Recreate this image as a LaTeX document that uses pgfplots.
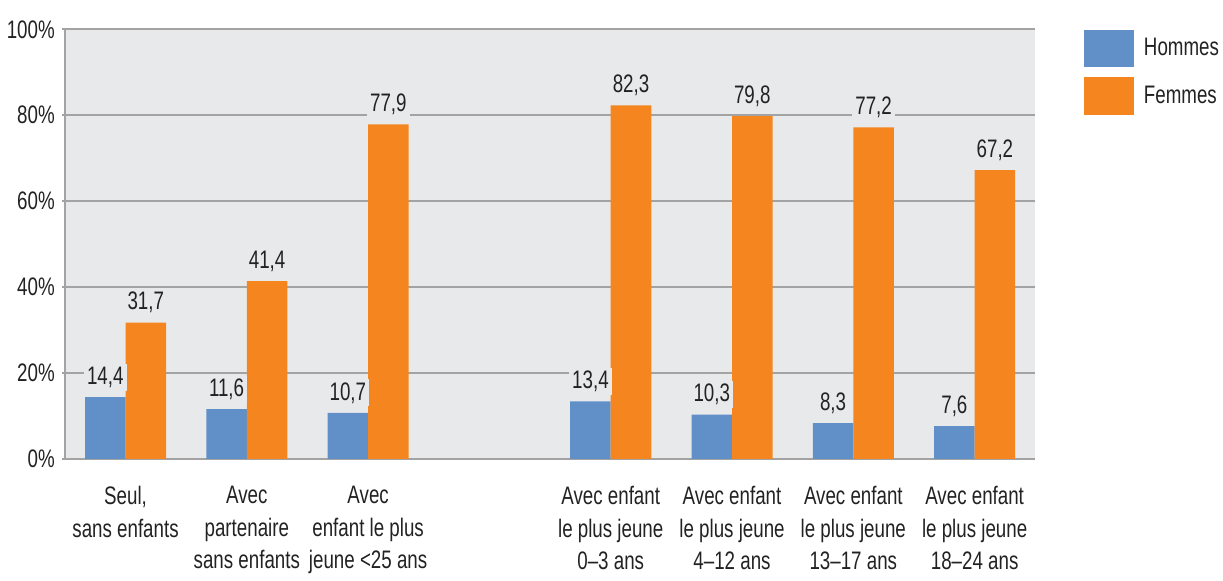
\documentclass[border=0pt]{standalone}
\usepackage{pgfplots}
\pgfplotsset{compat=1.18}
\usepackage{fontspec}
\setmainfont[FakeStretch=0.74]{Liberation Sans}
\definecolor{bblue}{HTML}{6190C9}
\definecolor{borange}{HTML}{F5861F}
\definecolor{bgc}{HTML}{E8E9EB}
\definecolor{gridc}{HTML}{A3A3A3}
\definecolor{txt}{HTML}{222222}
\begin{document}
\begin{tikzpicture}
\begin{axis}[
  scale only axis,
  width=479pt, height=212pt,
  xmin=-0.5, xmax=7.5, ymin=0, ymax=100,
  axis background/.style={fill=bgc},
  axis lines*=left,
  axis line style={gridc, line width=1pt},
  ymajorgrids, grid style={gridc, line width=0.9pt},
  ytick={0,20,40,60,80,100},
  yticklabel={\pgfmathprintnumber[assume math mode=true]{\tick}\%},
  tick align=outside, major tick length=1.5pt,
  ytick style={gridc, line width=0.9pt},
  xtick={0,1,2,4,5,6,7}, xtick style={draw=none},
  xticklabels={{Seul,\\sans enfants},{Avec\\partenaire\\sans enfants},{Avec\\enfant le plus\\jeune <25 ans},{Avec enfant\\le plus jeune\\0–3 ans},{Avec enfant\\le plus jeune\\4–12 ans},{Avec enfant\\le plus jeune\\13–17 ans},{Avec enfant\\le plus jeune\\18–24 ans}},
  xticklabel style={align=center, text=txt, font=\fontsize{12.5pt}{16pt}\selectfont, yshift=-8.5pt},
  yticklabel style={text=txt, font=\fontsize{12.5pt}{16pt}\selectfont},
  ybar=0pt, bar width=20pt,
  nodes near coords={\pgfmathprintnumber[use comma,fixed,fixed zerofill,precision=1,assume math mode=true]{\pgfplotspointmeta}},
  every node near coord/.append style={fill=bgc, inner sep=1.5pt, text=txt, font=\fontsize{12.5pt}{15pt}\selectfont, yshift=3pt},
  legend style={draw=none, fill=none, at={(rel axis cs:1.05,1)}, anchor=north west, inner sep=0pt, row sep=5pt, font=\fontsize{12.5pt}{15pt}\selectfont, text=txt},
  legend cell align=left,
  legend image code/.code={\fill[#1] (0pt,-9.25pt) rectangle (24.5pt,9.25pt);},
  /tikz/every odd column/.append style={column sep=3pt},
]
\addplot[fill=bblue, draw=none] coordinates {(0,14.4) (1,11.6) (2,10.7) (4,13.4) (5,10.3) (6,8.3) (7,7.6)};
\addplot[fill=borange, draw=none] coordinates {(0,31.7) (1,41.4) (2,77.9) (4,82.3) (5,79.8) (6,77.2) (7,67.2)};
\legend{Hommes,Femmes}
\end{axis}
\path (current axis.north) ++(0,14pt) node[inner sep=0pt]{};
\end{tikzpicture}
\end{document}
